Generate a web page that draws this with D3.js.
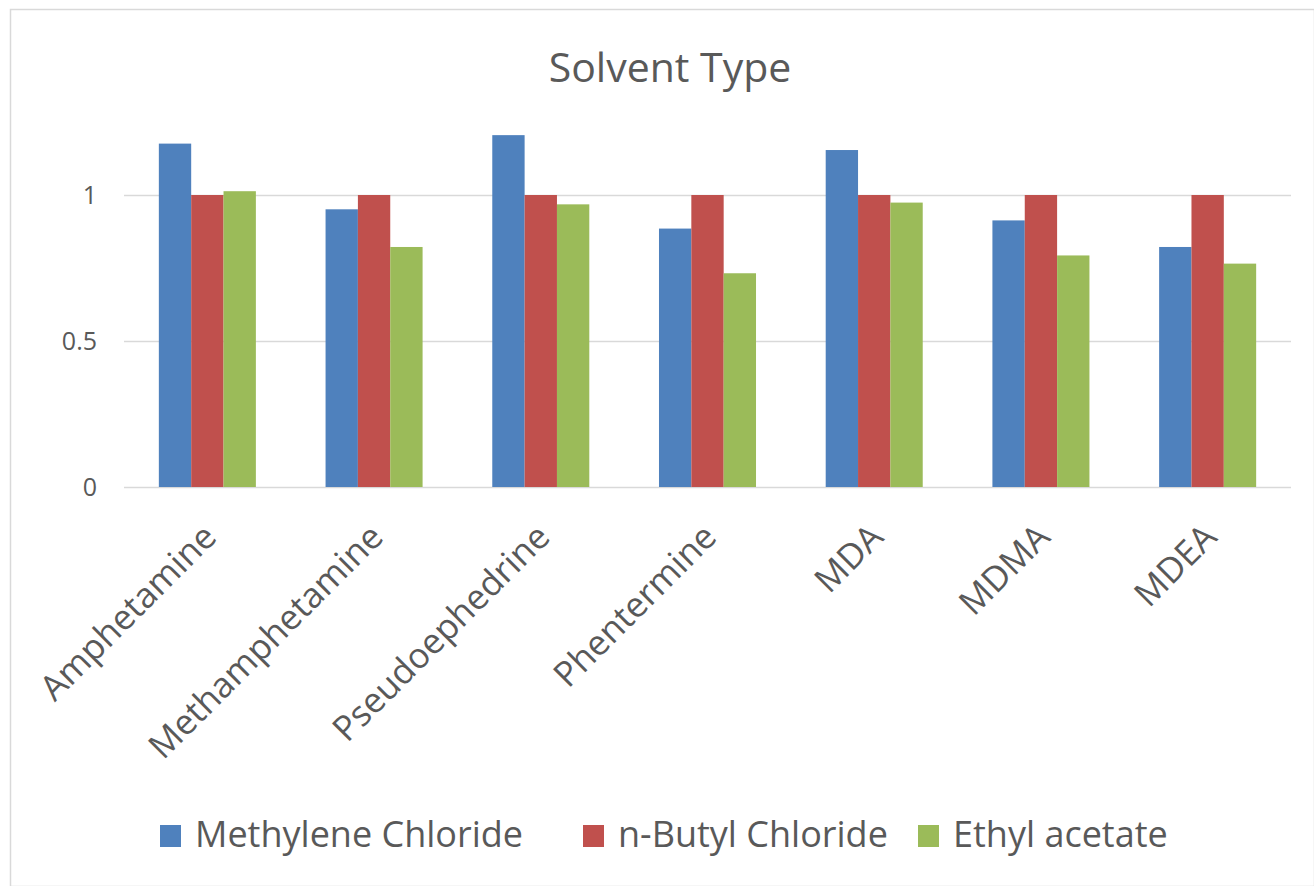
<!DOCTYPE html>
<html>
<head>
<meta charset="utf-8">
<script src="https://cdn.jsdelivr.net/npm/d3@7"></script>
<style>
  html, body { margin: 0; padding: 0; background: #fff; }
  svg { display: block; }
  text { font-family: "Open Sans", sans-serif; fill: #595959; }
</style>
</head>
<body>
<svg id="chart" width="1314" height="886"></svg>
<script>
const categories = ["Amphetamine", "Methamphetamine", "Pseudoephedrine", "Phentermine", "MDA", "MDMA", "MDEA"];
const seriesNames = ["Methylene Chloride", "n-Butyl Chloride", "Ethyl acetate"];
const methyleneChloride = [1.176, 0.951, 1.205, 0.885, 1.154, 0.913, 0.822];
const nButylChloride = [1.0, 1.0, 1.0, 1.0, 1.0, 1.0, 1.0];
const ethylAcetate = [1.013, 0.822, 0.968, 0.732, 0.974, 0.793, 0.765];
const yTicks = [0, 0.5, 1];
const colors = ["#4F81BD", "#C0504D", "#9BBB59"];

const seriesValues = [methyleneChloride, nButylChloride, ethylAcetate];

const svg = d3.select("#chart");
const W = 1314, H = 886;

// chart border
svg.append("rect").attr("x", 10.5).attr("y", 9.5).attr("width", W - 10).attr("height", H - 9)
  .attr("fill", "#fff").attr("stroke", "#D9D9D9").attr("stroke-width", 1.5);

const plot = { left: 124, right: 1291, top: 95, bottom: 487 };

const x0 = d3.scaleBand().domain(categories).range([plot.left, plot.right])
  .paddingInner(0.418).paddingOuter(0.209);
const x1 = d3.scaleBand().domain(seriesNames).range([0, x0.bandwidth()]);
const y = d3.scaleLinear().domain([0, 1.3425]).range([plot.bottom, plot.bottom - 1.3425 * 292]);

// gridlines
svg.append("g").selectAll("line").data(yTicks).join("line")
  .attr("x1", plot.left).attr("x2", plot.right)
  .attr("y1", d => Math.round(y(d)) + 0.5).attr("y2", d => Math.round(y(d)) + 0.5)
  .attr("stroke", "#D9D9D9").attr("stroke-width", 1.5);

// y tick labels
const yAxis = d3.axisLeft(y).tickValues(yTicks).tickFormat(d3.format("~g")).tickSize(0).tickPadding(0);
const yg = svg.append("g").attr("transform", `translate(${plot.left - 27},0)`).call(yAxis);
yg.select(".domain").remove();
yg.selectAll("text").attr("font-size", 25).attr("fill", "#595959")
  .style("font-family", '"Open Sans", sans-serif');

// bars
const groups = svg.append("g").selectAll("g").data(categories).join("g")
  .attr("transform", d => `translate(${x0(d)},0)`);
groups.selectAll("rect")
  .data((d, i) => seriesNames.map((s, j) => ({ s, v: seriesValues[j][i], j })))
  .join("rect")
  .attr("x", d => x1(d.s))
  .attr("width", x1.bandwidth())
  .attr("y", d => y(d.v))
  .attr("height", d => y(0) - y(d.v))
  .attr("fill", d => colors[d.j]);

// x labels
svg.append("g").selectAll("text").data(categories).join("text")
  .attr("transform", d => `translate(${x0(d) + x0.bandwidth() / 2 + 11},${plot.bottom + 52}) rotate(-45)`)
  .attr("text-anchor", "end")
  .attr("font-size", 35)
  .text(d => d);

// title
svg.append("text").attr("x", 670).attr("y", 82).attr("text-anchor", "middle")
  .attr("font-size", 41).text("Solvent Type");

// legend
const legendX = [160, 583, 918];
const lg = svg.append("g").selectAll("g").data(seriesNames).join("g")
  .attr("transform", (d, i) => `translate(${legendX[i]},825)`);
lg.append("rect").attr("width", 21).attr("height", 22).attr("fill", (d, i) => colors[i]);
lg.append("text").attr("x", 35).attr("y", 22).attr("font-size", 36).text(d => d);
</script>
</body>
</html>
